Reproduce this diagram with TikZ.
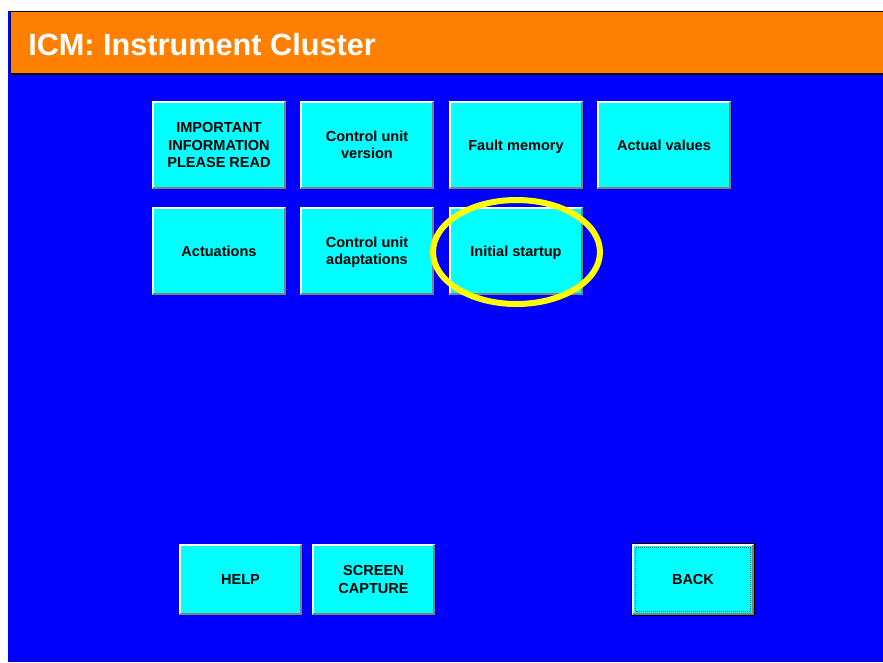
\documentclass[tikz,border=0pt]{standalone}
\usepackage{fontspec}
\setmainfont{Liberation Sans}
\definecolor{scrblue}{RGB}{0,0,255}
\definecolor{scrorange}{RGB}{255,128,0}
\definecolor{scrcyan}{RGB}{0,255,255}
\definecolor{scryellow}{RGB}{255,255,0}
\definecolor{bevelgray}{RGB}{128,128,128}
\definecolor{focusteal}{RGB}{0,100,100}
\tikzset{
  btn/.style={fill=scrcyan, draw=none, inner sep=0pt, align=center, text depth=0pt,
    font=\fontsize{10.9pt}{13pt}\selectfont\bfseries, text=black},
  hilite/.style={bevelgray, line width=1.5pt},
  lolite/.style={white, line width=1.5pt},
}
\newcommand\mybtn[6]{%
  \node[btn, minimum width={(#4-#2)*0.75pt}, minimum height={(#5-#3)*0.75pt}]
    (#1) at ({(#2+#4)/2},{(#3+#5)/2}) {#6};
  \draw[lolite] ([shift={(1,-1)}]#1.south west) -- ([shift={(1,1)}]#1.north west)
    -- ([shift={(-1,1)}]#1.north east);
  \draw[hilite] ([shift={(1,-1)}]#1.south west) -- ([shift={(-1,-1)}]#1.south east)
    -- ([shift={(-1,1)}]#1.north east);
}
\begin{document}
\begin{tikzpicture}[x=0.75pt, y=-0.75pt]
\useasboundingbox (0,0) rectangle (883,662);
\fill[white] (0,0) rectangle (883,662);
% screen
\fill[scrblue] (8,11) rectangle (883,662);
\fill[scrorange] (10.5,12) rectangle (883,73.5);
\draw[black!80!blue, line width=1pt] (8,11.5) -- (883,11.5);
\draw[black, line width=1.5pt] (10.5,74) -- (883,74);
\draw[black!60!blue, line width=0.75pt] (10.5,12) -- (10.5,74);
\node[anchor=base west, inner sep=0pt, text=white,
  font=\fontsize{23pt}{27pt}\selectfont\bfseries] (title) at (28,55) {ICM: Instrument Cluster};
% row 1
\mybtn{imp}{152}{101}{286}{189}{IMPORTANT\\INFORMATION\\PLEASE READ}
\mybtn{cuv}{300}{101}{434}{189}{Control unit\\version}
\mybtn{fm}{449}{101}{583}{189}{Fault memory}
\mybtn{av}{597}{101}{731}{189}{Actual values}
% row 2
\mybtn{act}{152}{207}{286}{295}{Actuations}
\mybtn{cua}{300}{207}{434}{295}{Control unit\\adaptations}
\mybtn{init}{449}{207}{583}{295}{Initial startup}
% bottom row
\mybtn{help}{179}{544}{302}{615}{HELP}
\mybtn{cap}{312}{544}{435}{615}{SCREEN\\CAPTURE}
\mybtn{back}{632}{544}{754}{615}{BACK}
\draw[black, line width=1pt] (back.south west) rectangle (back.north east);
\draw[focusteal, line width=0.9pt, dash pattern=on 0.75pt off 0.75pt]
  ([shift={(4,-4)}]back.south west) rectangle ([shift={(-4,4)}]back.north east);
% highlight ellipse
\coordinate (ring) at (516.5,252);
\draw[scryellow, line width=4.5pt] (ring) ellipse [x radius=83.5, y radius=52];
\end{tikzpicture}
\end{document}
